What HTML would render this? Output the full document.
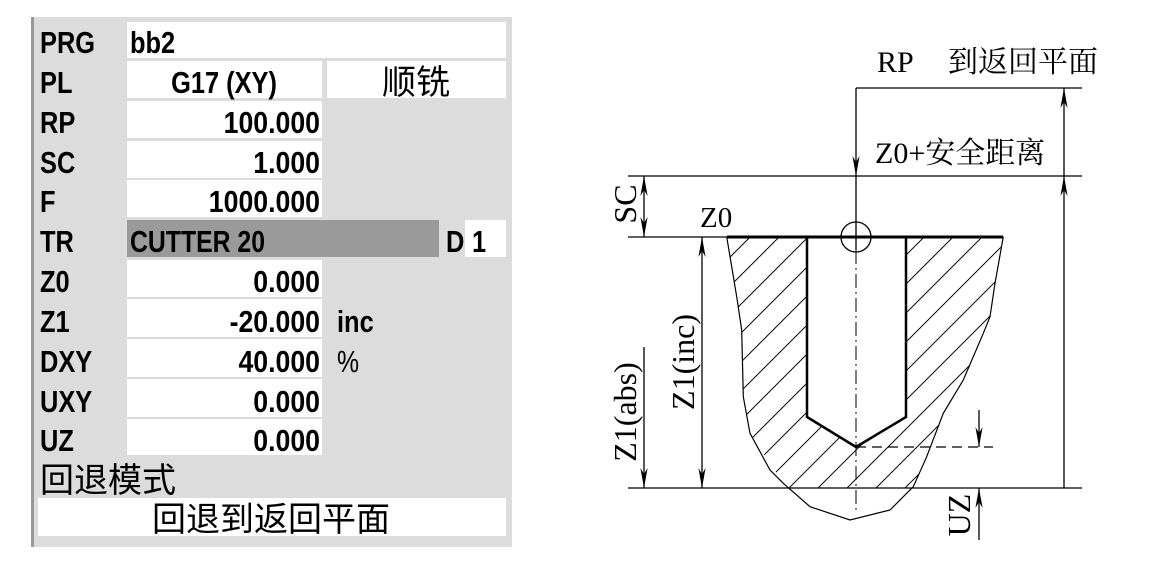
<!DOCTYPE html>
<html><head><meta charset="utf-8"><style>
html,body{margin:0;padding:0;background:#fff;}
body{width:1159px;height:570px;position:relative;overflow:hidden;}
.p{font-family:"Liberation Sans",sans-serif;font-weight:bold;font-size:31px;}
.c{font-family:"Liberation Sans","Noto Sans CJK SC",sans-serif;font-weight:normal;font-size:34px;}
.s{font-family:"Liberation Serif","Noto Serif CJK SC",serif;font-size:32px;}
</style></head><body>
<svg width="1159" height="570" xmlns="http://www.w3.org/2000/svg">
<rect x="31" y="17" width="481" height="530" fill="#dcdcdc"/>
<rect x="31" y="17" width="3" height="530" fill="#999"/>
<g fill="#fff">
<rect x="127" y="22" width="379" height="36"/>
<rect x="127" y="61" width="195" height="37"/>
<rect x="327" y="61" width="179" height="37"/>
<rect x="127" y="101" width="195" height="37"/>
<rect x="127" y="141" width="195" height="37"/>
<rect x="127" y="180" width="195" height="37"/>
<rect x="465" y="220" width="41" height="37"/>
<rect x="127" y="260" width="195" height="37"/>
<rect x="127" y="299" width="195" height="38"/>
<rect x="127" y="339" width="195" height="38"/>
<rect x="127" y="379" width="195" height="38"/>
<rect x="127" y="419" width="195" height="36"/>
<rect x="38" y="498" width="468" height="38"/>
</g>
<rect x="127" y="220" width="312" height="37" fill="#9a9a9a"/>
<g class="p" fill="#000">
<text transform="translate(40,53) scale(0.82,1)">PRG</text><text transform="translate(130,53) scale(0.82,1)">bb2</text>
<text transform="translate(40,93) scale(0.82,1)">PL</text><text transform="translate(224,93) scale(0.82,1)" text-anchor="middle">G17 (XY)</text>
<text transform="translate(40,133) scale(0.82,1)">RP</text><text transform="translate(320,133) scale(0.86,1)" text-anchor="end">100.000</text>
<text transform="translate(40,173) scale(0.82,1)">SC</text><text transform="translate(320,173) scale(0.86,1)" text-anchor="end">1.000</text>
<text transform="translate(40,212) scale(0.82,1)">F</text><text transform="translate(320,212) scale(0.86,1)" text-anchor="end">1000.000</text>
<text transform="translate(40,252) scale(0.82,1)">TR</text><text transform="translate(130,252) scale(0.8,1)">CUTTER 20</text>
<text transform="translate(446,252) scale(0.82,1)">D</text><text transform="translate(472,252) scale(0.82,1)">1</text>
<text transform="translate(40,292) scale(0.82,1)">Z0</text><text transform="translate(320,292) scale(0.86,1)" text-anchor="end">0.000</text>
<text transform="translate(40,332) scale(0.82,1)">Z1</text><text transform="translate(320,332) scale(0.86,1)" text-anchor="end">-20.000</text>
<text transform="translate(337,332) scale(0.82,1)">inc</text>
<text transform="translate(40,372) scale(0.82,1)">DXY</text><text transform="translate(320,372) scale(0.86,1)" text-anchor="end">40.000</text>
<text transform="translate(337,372) scale(0.8,1)" style="font-weight:normal">%</text>
<text transform="translate(40,451) scale(0.82,1)">UZ</text><text transform="translate(320,451) scale(0.86,1)" text-anchor="end">0.000</text>
<text transform="translate(40,412) scale(0.82,1)">UXY</text><text transform="translate(320,412) scale(0.86,1)" text-anchor="end">0.000</text>
</g>
<g class="c" fill="#000">
<text x="416" y="94" text-anchor="middle">顺铣</text>
<text x="40" y="492">回退模式</text>
<text x="271" y="531" text-anchor="middle">回退到返回平面</text>
</g>
<defs>
<pattern id="h" width="20.5" height="20.5" patternUnits="userSpaceOnUse" patternTransform="rotate(45)">
<line x1="1" y1="0" x2="1" y2="20.5" stroke="#000" stroke-width="1"/></pattern>
<clipPath id="cl"><rect x="600" y="230" width="500" height="258"/></clipPath>
<marker id="a" viewBox="0 0 10 10" refX="10" refY="5" markerWidth="20" markerHeight="9" orient="auto-start-reverse" markerUnits="userSpaceOnUse" preserveAspectRatio="none"><path d="M0,1 L10,5 L0,9 L3,5 Z" fill="#000"/></marker>
</defs>
<path d="M726.7,236.7 L736.7,296.7 L741.7,330 L743.3,396.7 L750,433.3 L783.3,483.3 L810,506.7 L850,520 L890,510 L913.3,486.7 L926.7,456.7 L943.3,413.3 L963.3,380 L983.3,333.3 L990,316.7 L995,283.3 L1003.3,236.7 Z" fill="url(#h)" stroke="none" clip-path="url(#cl)"/>
<path d="M726.7,236.7 L736.7,296.7 L741.7,330 L743.3,396.7 L750,433.3 L770,470 L783.3,483.3 L810,506.7 L850,520 L890,510 L913.3,486.7 L926.7,456.7 L943.3,413.3 L963.3,380 L983.3,333.3 L990,316.7 L995,283.3 L1003.3,236.7" fill="none" stroke="#000" stroke-width="1.2"/>
<path d="M807,237 L807,417 L856,447 L906,417 L906,237 Z" fill="#fff" stroke="#000" stroke-width="2.5"/>
<g stroke="#000" stroke-width="1.3" fill="none">
<line x1="856" y1="88" x2="1082" y2="88"/>
<line x1="628" y1="176" x2="1082" y2="176"/>
<line x1="628" y1="237" x2="727" y2="237"/>
<line x1="727" y1="237" x2="1003" y2="237" stroke-width="3"/>
<line x1="628" y1="488" x2="1082" y2="488"/>
<line x1="856" y1="88" x2="856" y2="176" marker-end="url(#a)"/>
<line x1="856" y1="176" x2="856" y2="250"/>
<line x1="856" y1="250" x2="856" y2="510" stroke-dasharray="14,4,2,4" stroke-width="1"/>
<circle cx="856" cy="237" r="15"/>
<line x1="856" y1="447" x2="993" y2="447" stroke-dasharray="10,6"/>
<line x1="1064" y1="176" x2="1064" y2="88" marker-end="url(#a)"/>
<line x1="1064" y1="488" x2="1064" y2="176" marker-end="url(#a)"/>
<line x1="644" y1="176" x2="644" y2="237" marker-start="url(#a)" marker-end="url(#a)"/>
<line x1="702" y1="237" x2="702" y2="488" marker-start="url(#a)" marker-end="url(#a)"/>
<line x1="644" y1="347" x2="644" y2="488" marker-end="url(#a)"/>
<line x1="979" y1="410" x2="979" y2="447" marker-end="url(#a)"/>
<line x1="979" y1="540" x2="979" y2="488" marker-end="url(#a)"/>
</g>
<g class="s" fill="#000">
<text x="877" y="72" style="font-size:30px">RP</text>
<text x="948" y="72" style="font-size:30px">到返回平面</text>
<text x="875" y="163" style="font-size:30px">Z0+安全距离</text>
<text x="700" y="227" style="font-size:29px">Z0</text>
<text transform="translate(636,204) rotate(-90)" text-anchor="middle">SC</text>
<text transform="translate(694,362) rotate(-90)" text-anchor="middle">Z1(inc)</text>
<text transform="translate(636,412) rotate(-90)" text-anchor="middle">Z1(abs)</text>
<text transform="translate(970,515) rotate(-90)" text-anchor="middle">UZ</text>
</g>
</svg>
</body></html>
